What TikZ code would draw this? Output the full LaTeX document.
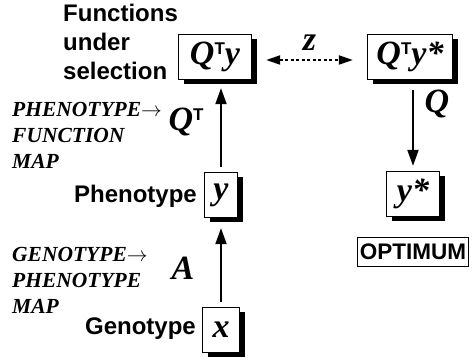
\documentclass[tikz,border=0pt]{standalone}
\usepackage{fontspec}
\setmainfont{Liberation Serif}
\setsansfont{Liberation Sans}
\usetikzlibrary{arrows.meta, shadows, calc, positioning}

\newcommand{\supT}{\raisebox{10pt}{\upshape\sffamily\bfseries\fontsize{17}{17}\selectfont T}}

\tikzset{
  varbox/.style={draw, line width=1.3pt, fill=white, minimum height=45pt, inner sep=0pt,
    font=\fontsize{34}{34}\selectfont\bfseries\itshape,
    drop shadow={fill=black, opacity=1, shadow xshift=5pt, shadow yshift=-5pt}},
  lbl/.style={font=\fontsize{24}{29}\selectfont\sffamily\bfseries, align=left, inner sep=0pt},
  maplbl/.style={font=\fontsize{21.5}{26}\selectfont\bfseries\itshape, align=left, inner sep=0pt},
  sym/.style={font=\fontsize{34}{34}\selectfont\bfseries\itshape, inner sep=0pt},
  maparrow/.style={-{Triangle[length=16pt,width=11pt]}, line width=2pt},
}

\begin{document}
\begin{tikzpicture}[x=1pt, y=1pt]
    \useasboundingbox (0,0) rectangle (472,358);
    \node[varbox, minimum width=73pt] (qty) at (215,301) {Q\supT y};
    \node[varbox, minimum width=85pt] (qtystar) at (410,301) {Q\supT y*};
    \node[varbox, minimum width=53pt] (ystar) at (413,164) {y*};
    \node[varbox, minimum width=33pt] (y) at (221,163) {y};
    \node[varbox, minimum width=37pt] (x) at (221,28) {x};

    \draw[maparrow] ($(x.north)+(0,5)$) -- ($(y.south)+(0,-10)$);
    \draw[maparrow] ($(y.north)+(0,5)$) -- ($(y.north |- qty.south)+(0,-8)$);
    \draw[maparrow] ($(ystar.north |- qtystar.south)+(0,-10)$) -- ($(ystar.north)+(0,5)$);
    \draw[{Triangle[length=14pt,width=9pt]}-{Triangle[length=14pt,width=9pt]}, line width=2pt,
        dash pattern=on 3pt off 2.5pt]
        ($(qty.east)+(14,-3)$) -- ($(qtystar.west)+(-14,-3)$) node[sym, midway, above=8pt] (zlbl) {z};

    \node[lbl, anchor=north west] (fsel) at (63,354) {Functions\\under\\selection};
    \node[lbl, anchor=east] (pheno) at (197,162) {Phenotype};
    \node[lbl, anchor=east] (geno) at (196,29) {Genotype};
    \node[maplbl, anchor=north west] (pfmap) at (12,256) {PHENOTYPE$\rightarrow$\\FUNCTION\\MAP};
    \node[maplbl, anchor=north west] (gpmap) at (12,111) {GENOTYPE$\rightarrow$\\PHENOTYPE\\MAP};
    \node[sym] (qtmap) at (186,236) {Q\supT};
    \node[sym] (amap) at (183,90) {A};
    \node[sym] (qmap) at (437,254) {Q};
    \node[draw, line width=0.7pt, font=\fontsize{22.5}{22.5}\selectfont\sffamily\bfseries,
        inner xsep=2.5pt, inner ysep=3pt, minimum height=29pt, anchor=west] (opt) at (357,106.5) {OPTIMUM};
\end{tikzpicture}
\end{document}
